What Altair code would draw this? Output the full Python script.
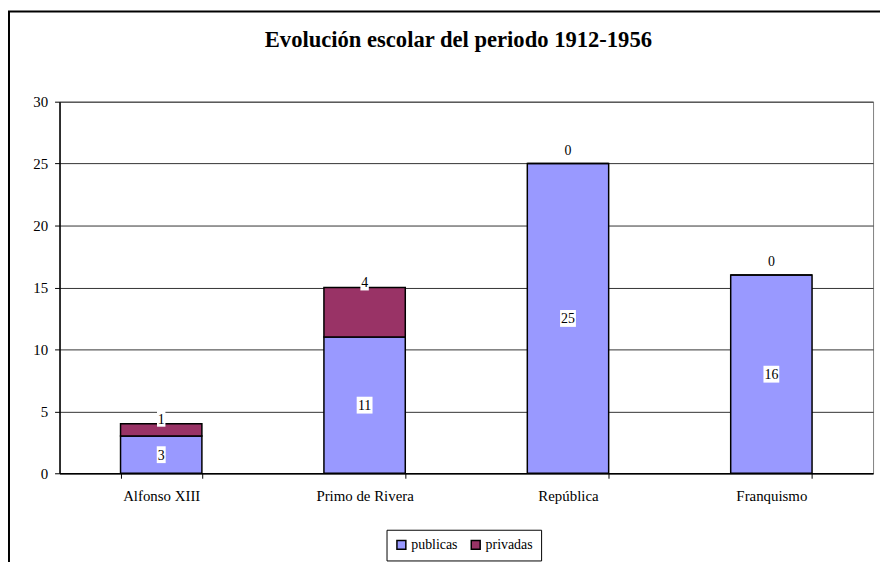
import altair as alt
import pandas as pd

categories = ["Alfonso XIII", "Primo de Rivera", "República", "Franquismo"]
publicas = [3, 11, 25, 16]
privadas = [1, 4, 0, 0]
series = ["publicas", "privadas"]
colors = ["#9999FF", "#993366"]
y_ticks = [0, 5, 10, 15, 20, 25, 30]
title_text = "Evolución escolar del periodo 1912-1956"

rows = []
for i, c in enumerate(categories):
    rows.append({"cat": c, "serie": series[0], "v": publicas[i], "idx": 0})
    rows.append({"cat": c, "serie": series[1], "v": privadas[i], "idx": 1})
bars_df = pd.DataFrame(rows)

lab_df = pd.DataFrame({"cat": categories, "pub": publicas, "priv": privadas})
lab_df["mid"] = lab_df["pub"] / 2
lab_df["top"] = lab_df["pub"] + lab_df["priv"]

FONT = "Liberation Serif"
W, H = 821, 375

xs = alt.Scale(domain=categories, paddingInner=0.6, paddingOuter=0.3)
ys = alt.Scale(domain=[0, 30], nice=False)

frame = alt.Chart(pd.DataFrame({"a": [0]})).mark_rect(
    filled=False, stroke="black", strokeWidth=2, clip=False
).encode(
    x=alt.value(-51), x2=alt.value(W + 40),
    y=alt.value(-91), y2=alt.value(H + 120),
)

bars = alt.Chart(bars_df).mark_bar(stroke="black", strokeWidth=1.5).encode(
    x=alt.X("cat:N", sort=categories, scale=xs,
            axis=alt.Axis(title=None, labelAngle=0, tickBand="extent", tickSize=5,
                          labelPadding=10, grid=False, domainWidth=1.5)),
    y=alt.Y("v:Q", stack="zero", scale=ys,
            axis=alt.Axis(title=None, values=y_ticks, tickSize=5, labelPadding=7,
                          grid=True, domainWidth=1.5)),
    color=alt.Color("serie:N", scale=alt.Scale(domain=series, range=colors),
                    legend=alt.Legend(title=None, orient="none", legendX=330, legendY=432,
                                      direction="horizontal", strokeColor="black",
                                      fillColor="white", padding=8,
                                      symbolType="square", symbolSize=81,
                                      symbolStrokeColor="black", symbolStrokeWidth=1.5,
                                      labelFont=FONT, labelFontSize=14, labelColor="black",
                                      labelOffset=3, columnPadding=10)),
    order=alt.Order("idx:Q", sort="ascending"),
)

box1 = "M-0.53,-1L0.53,-1L0.53,1L-0.53,1Z"
box2 = "M-0.94,-1L0.94,-1L0.94,1L-0.94,1Z"

base = alt.Chart(lab_df)
xenc = alt.X("cat:N", sort=categories, scale=xs, title=None)

pub_box = base.mark_point(filled=True, fill="white", opacity=1, size=289, strokeWidth=0).encode(
    x=xenc,
    y=alt.Y("mid:Q", scale=ys, title=None),
    shape=alt.condition("datum.pub >= 10", alt.value(box2), alt.value(box1)),
)
pub_txt = base.mark_text(font=FONT, fontSize=14, fill="black", baseline="middle", dy=1).encode(
    x=xenc,
    y=alt.Y("mid:Q", scale=ys, title=None),
    text=alt.Text("pub:Q"),
)

nz = base.transform_filter("datum.priv > 0")
priv_box = nz.mark_point(filled=True, fill="white", opacity=1, size=256, strokeWidth=0, yOffset=-5).encode(
    x=xenc,
    y=alt.Y("top:Q", scale=ys, title=None),
    shape=alt.value(box1),
)
priv_txt = nz.mark_text(font=FONT, fontSize=14, fill="black", baseline="middle", dy=-4).encode(
    x=xenc,
    y=alt.Y("top:Q", scale=ys, title=None),
    text=alt.Text("priv:Q"),
)
zero_txt = base.transform_filter("datum.priv == 0").mark_text(
    font=FONT, fontSize=14, fill="black", baseline="middle", dy=-13
).encode(
    x=xenc,
    y=alt.Y("top:Q", scale=ys, title=None),
    text=alt.Text("priv:Q"),
)

chart = alt.layer(
    frame, bars, pub_box, pub_txt, priv_box, priv_txt, zero_txt
).properties(
    width=W, height=H,
    autosize="none",
    padding={"left": 52, "top": 92, "right": 7, "bottom": 87},
    title=alt.TitleParams(title_text, font=FONT, fontSize=22.8, fontWeight="bold",
                          color="black", anchor="middle", dx=-8, offset=0,
                          baseline="alphabetic", dy=60),
).configure_view(
    stroke="#808080", strokeWidth=1
).configure_axis(
    labelFont=FONT, labelFontSize=15, labelColor="black",
    domainColor="black", tickColor="black", gridColor="#333333", gridWidth=1,
)

chart.save("out.html", embed_options={"renderer": "svg", "actions": False})
